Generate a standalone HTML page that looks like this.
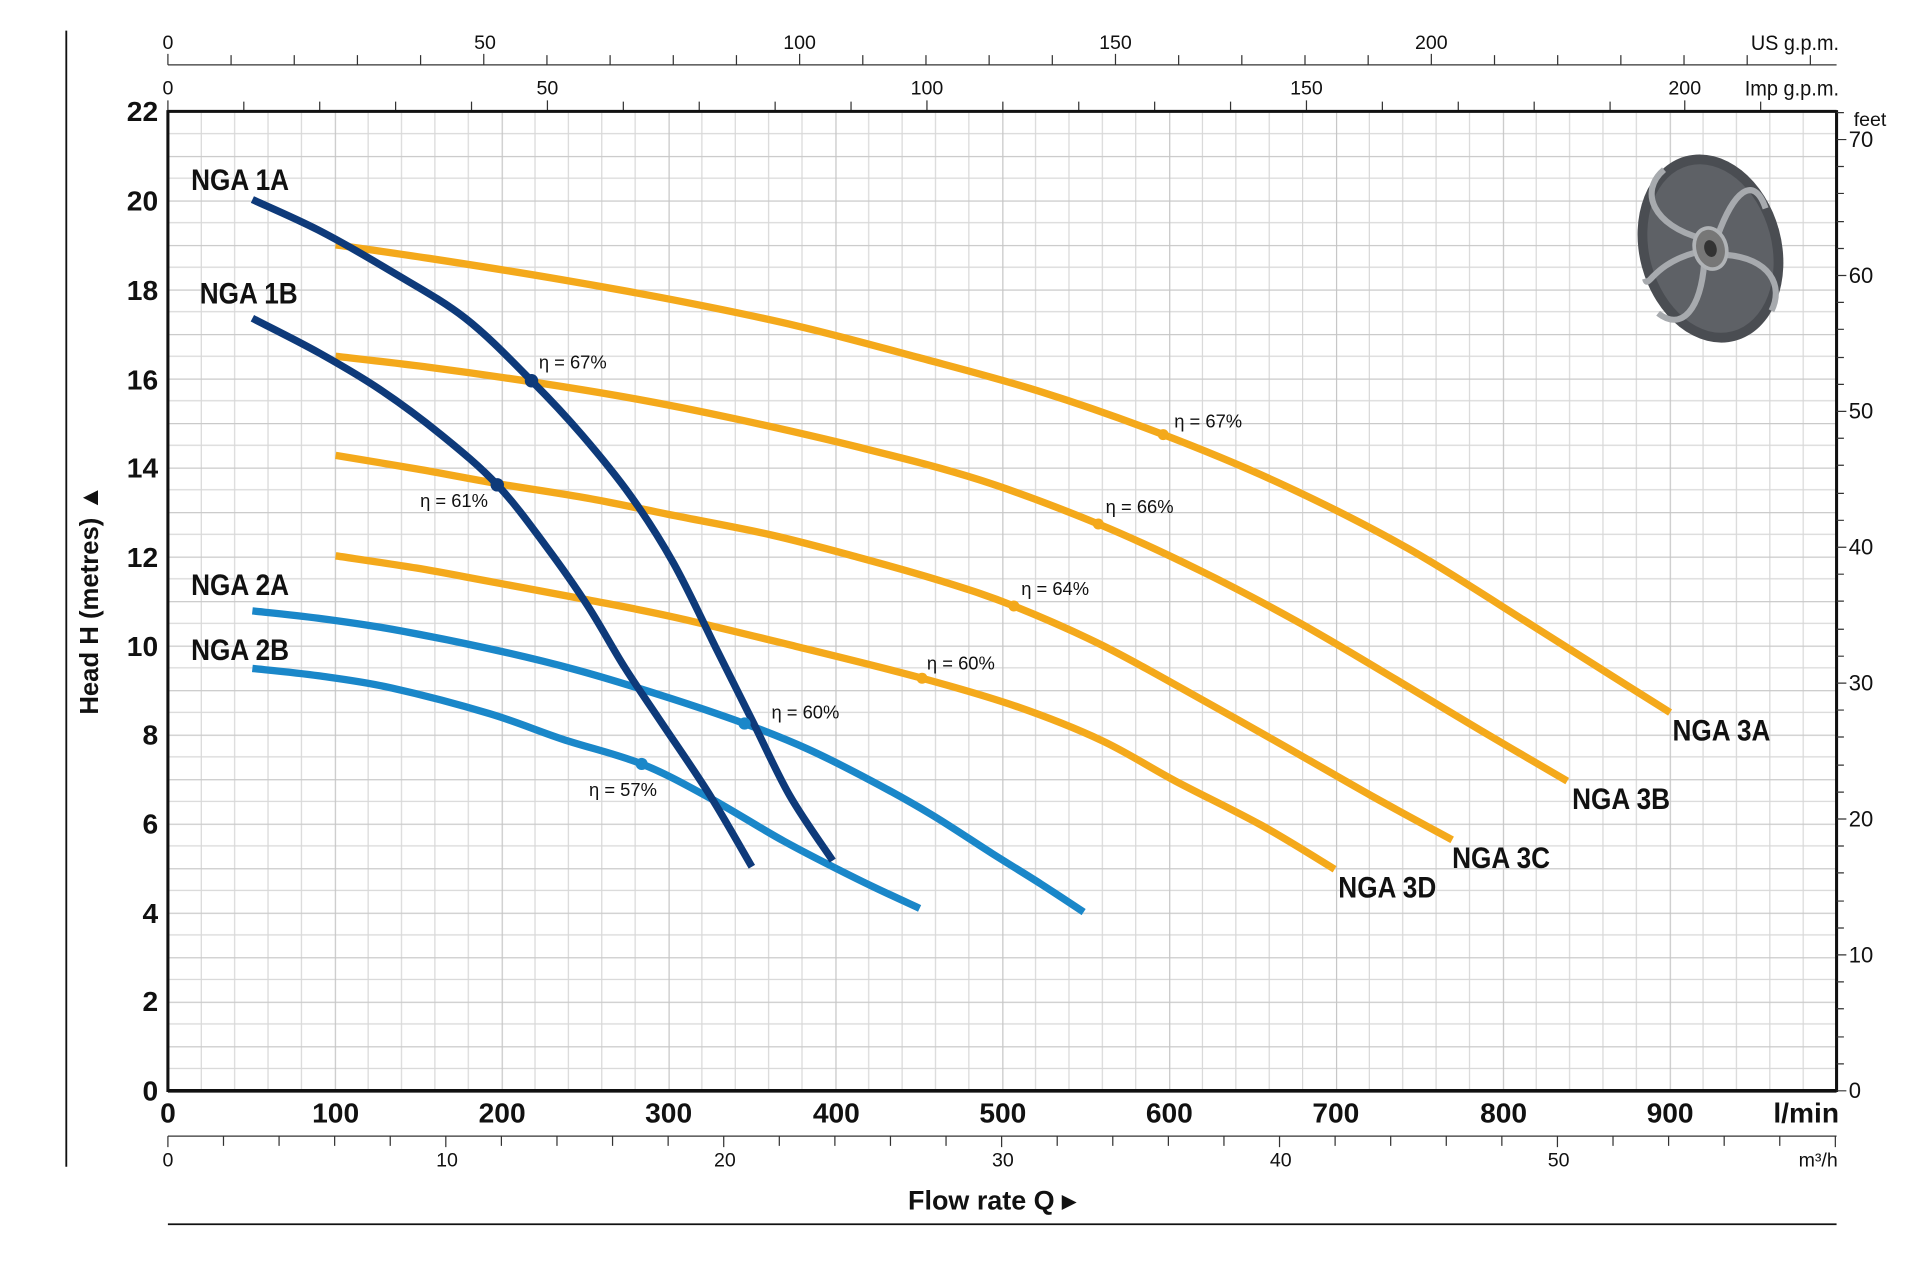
<!DOCTYPE html>
<html><head><meta charset="utf-8"><style>
html,body{margin:0;padding:0;background:#fff;}
svg{display:block;}
text{font-family:"Liberation Sans Narrow","Liberation Sans",sans-serif;fill:#111;}
.b{font-weight:bold;}
</style></head><body>
<svg id="s" width="1920" height="1272" viewBox="0 0 1568 1039" xmlns="http://www.w3.org/2000/svg">
<defs>
<pattern id="g" x="137" y="91" width="136.3" height="36.36" patternUnits="userSpaceOnUse">
 <g stroke="#d8d8d8" stroke-width="1">
  <line x1="0" y1="18.18" x2="136.3" y2="18.18"/>
  <line x1="27.26" y1="0" x2="27.26" y2="36.36"/>
  <line x1="54.52" y1="0" x2="54.52" y2="36.36"/>
  <line x1="81.78" y1="0" x2="81.78" y2="36.36"/>
  <line x1="109.04" y1="0" x2="109.04" y2="36.36"/>
 </g>
 <line x1="0" y1="0" x2="136.3" y2="0" stroke="#cacaca" stroke-width="2"/>
 <line x1="0" y1="0" x2="0" y2="36.36" stroke="#c6c6c6" stroke-width="2"/>
</pattern>
</defs>
<rect x="137" y="91" width="1363" height="800" fill="url(#g)"/>
<line x1="54" y1="25" x2="54" y2="953" stroke="#111" stroke-width="1.5"/>
<line x1="137" y1="53" x2="1500" y2="53" stroke="#333" stroke-width="1"/>
<g stroke="#333" stroke-width="1">
<path d="M137 53V44M188.6 53V45M240.2 53V45M291.8 53V45M343.4 53V45M395 53V44M446.6 53V45M498.2 53V45M549.8 53V45M601.4 53V45M653 53V44M704.6 53V45M756.2 53V45M807.8 53V45M859.4 53V45M911 53V44M962.6 53V45M1014.2 53V45M1065.8 53V45M1117.4 53V45M1169 53V44M1220.6 53V45M1272.2 53V45M1323.8 53V45M1375.4 53V45M1427 53V45M1478.6 53V45"/>
</g>
<g font-size="16" text-anchor="middle">
<text x="137" y="40">0</text><text x="396" y="40">50</text><text x="653" y="40">100</text><text x="911" y="40">150</text><text x="1169" y="40">200</text>
</g>
<text x="1502" y="41" font-size="17" text-anchor="end" textLength="72" lengthAdjust="spacingAndGlyphs">US g.p.m.</text>
<g stroke="#333" stroke-width="1">
<path d="M137 91V82M199 91V83M261 91V83M323 91V83M385 91V83M447 91V82M509 91V83M571 91V83M633 91V83M695 91V83M757 91V82M819 91V83M881 91V83M943 91V83M1005 91V83M1067 91V82M1129 91V83M1191 91V83M1253 91V83M1315 91V83M1376 91V82M1438 91V83"/>
</g>
<g font-size="16" text-anchor="middle">
<text x="137" y="77">0</text><text x="447" y="77">50</text><text x="757" y="77">100</text><text x="1067" y="77">150</text><text x="1376" y="77">200</text>
</g>
<text x="1502" y="78" font-size="17" text-anchor="end" textLength="77" lengthAdjust="spacingAndGlyphs">Imp g.p.m.</text>
<line x1="137" y1="91" x2="1500" y2="91" stroke="#111" stroke-width="2.5"/>
<line x1="137" y1="891" x2="1500" y2="891" stroke="#111" stroke-width="3"/>
<line x1="137" y1="90" x2="137" y2="892" stroke="#111" stroke-width="2.5"/>
<line x1="1500" y1="90" x2="1500" y2="892" stroke="#111" stroke-width="2.5"/>
<g stroke="#333" stroke-width="1">
<path d="M1500 891h8M1500 869h6M1500 847h6M1500 824h6M1500 802h6M1500 780h8M1500 758h6M1500 736h6M1500 713h6M1500 691h6M1500 669h8M1500 647h6M1500 625h6M1500 602h6M1500 580h6M1500 558h8M1500 536h6M1500 514h6M1500 491h6M1500 469h6M1500 447h8M1500 425h6M1500 403h6M1500 380h6M1500 358h6M1500 336h8M1500 314h6M1500 292h6M1500 269h6M1500 247h6M1500 225h8M1500 203h6M1500 181h6M1500 158h6M1500 136h6M1500 114h8M1500 92h6"/>
</g>
<g font-size="18">
<text x="1510" y="897">0</text><text x="1510" y="786">10</text><text x="1510" y="675">20</text><text x="1510" y="564">30</text><text x="1510" y="453">40</text><text x="1510" y="342">50</text><text x="1510" y="231">60</text><text x="1510" y="120">70</text>
<text x="1514" y="103" font-size="16">feet</text>
</g>
<g font-size="23" text-anchor="end">
<text x="129" y="899" class="b">0</text><text x="129" y="826" class="b">2</text><text x="129" y="754" class="b">4</text><text x="129" y="681" class="b">6</text><text x="129" y="608" class="b">8</text><text x="129" y="536" class="b">10</text><text x="129" y="463" class="b">12</text><text x="129" y="390" class="b">14</text><text x="129" y="318" class="b">16</text><text x="129" y="245" class="b">18</text><text x="129" y="172" class="b">20</text><text x="129" y="99" class="b">22</text>
</g>
<text transform="translate(80,490) rotate(-90)" font-size="21" class="b" text-anchor="middle" style="font-family:'Liberation Sans',sans-serif">Head H (metres)  ▲</text>
<g font-size="23" text-anchor="middle">
<text x="137" y="917" class="b">0</text><text x="274" y="917" class="b">100</text><text x="410" y="917" class="b">200</text><text x="546" y="917" class="b">300</text><text x="683" y="917" class="b">400</text><text x="819" y="917" class="b">500</text><text x="955" y="917" class="b">600</text><text x="1091" y="917" class="b">700</text><text x="1228" y="917" class="b">800</text><text x="1364" y="917" class="b">900</text>
</g>
<text x="1502" y="917" font-size="23" class="b" text-anchor="end">l/min</text>
<line x1="137" y1="928" x2="1500" y2="928" stroke="#333" stroke-width="1"/>
<g stroke="#333" stroke-width="1">
<path d="M137 928v9M182.4 928v8M227.8 928v8M273.2 928v8M318.6 928v8M364 928v9M409.4 928v8M454.8 928v8M500.2 928v8M545.6 928v8M591 928v9M636.4 928v8M681.8 928v8M727.2 928v8M772.6 928v8M818 928v9M863.4 928v8M908.8 928v8M954.2 928v8M999.6 928v8M1045 928v9M1090.4 928v8M1135.8 928v8M1181.2 928v8M1226.6 928v8M1272 928v9M1317.4 928v8M1362.8 928v8M1408.2 928v8M1453.6 928v8M1499 928v9"/>
</g>
<g font-size="16" text-anchor="middle">
<text x="137" y="953">0</text><text x="365" y="953">10</text><text x="592" y="953">20</text><text x="819" y="953">30</text><text x="1046" y="953">40</text><text x="1273" y="953">50</text>
</g>
<text x="1501" y="953" font-size="16" text-anchor="end">m³/h</text>
<text x="810" y="988" font-size="22" class="b" text-anchor="middle" style="font-family:'Liberation Sans',sans-serif">Flow rate  Q  ▸</text>
<line x1="137" y1="1000" x2="1500" y2="1000" stroke="#111" stroke-width="1.5"/>
<g transform="translate(1397,203) rotate(-15)">
<ellipse cx="0" cy="0" rx="58" ry="78" fill="#4a4d52"/>
<ellipse cx="0" cy="0" rx="50" ry="70" fill="#5e6166"/>
<path d="M-5 -10 C-40 -30 -45 -60 -20 -72 M8 -8 C30 -40 50 -50 52 -20 M10 8 C45 20 50 45 35 62 M-8 10 C-20 45 -40 60 -55 40 M-12 0 C-50 0 -58 20 -58 10" stroke="#a7aaae" stroke-width="5" fill="none"/>
<ellipse cx="0" cy="0" rx="13" ry="17" fill="#777" stroke="#b0b3b6" stroke-width="3"/>
<ellipse cx="0" cy="0" rx="5" ry="7" fill="#333"/>
</g>
<g id="cv" fill="none" stroke-width="6" stroke-linecap="butt" stroke-linejoin="round">
<polyline stroke="#f4a91b" points="274,200 350,211 450,227 550,245 650,266 750,292 850,320 950,355 1050,397 1150,448 1250,510 1310,548 1364,582"/>
<polyline stroke="#f4a91b" points="274,291 350,300 435,312 520,326 600,342 700,365 800,392 897,428 980,466 1060,508 1140,555 1210,597 1280,638"/>
<polyline stroke="#f4a91b" points="274,372 340,383 406,395 480,407 550,421 630,437 700,455 770,475 828,495 900,527 970,565 1050,610 1120,650 1186,686"/>
<polyline stroke="#f4a91b" points="274,454 340,464 400,475 480,490 550,504 650,528 753,554 830,577 900,605 960,638 1030,674 1090,710"/>
<polyline stroke="#1a87c9" points="206,499 260,505 320,514 400,530 470,547 540,568 608,591 660,612 710,637 760,665 810,697 850,722 885,745"/>
<polyline stroke="#1a87c9" points="206,546 260,552 320,562 400,583 460,604 524,624 580,652 640,687 700,718 751,742"/>
<polyline stroke="#0e3a7a" points="206,163 260,188 320,222 380,260 434,311 475,355 515,405 550,460 585,530 615,590 645,650 680,703"/>
<polyline stroke="#0e3a7a" points="206,260 260,288 310,318 360,355 406,396 445,445 480,495 510,545 540,590 580,650 614,708"/>
</g>
<g>
<circle cx="950" cy="355" r="4.5" fill="#f4a91b"/><circle cx="897" cy="428" r="4.5" fill="#f4a91b"/><circle cx="828" cy="495" r="4.5" fill="#f4a91b"/><circle cx="753" cy="554" r="4.5" fill="#f4a91b"/>
<circle cx="608" cy="591" r="5" fill="#1a87c9"/><circle cx="524" cy="624" r="5" fill="#1a87c9"/>
<circle cx="434" cy="311" r="5.5" fill="#0e3a7a"/><circle cx="406" cy="396" r="5.5" fill="#0e3a7a"/>
</g>
<g font-size="15">
<text x="440" y="301">η = 67%</text><text x="343" y="414">η = 61%</text><text x="959" y="349">η = 67%</text><text x="903" y="419">η = 66%</text><text x="834" y="486">η = 64%</text><text x="757" y="547">η = 60%</text><text x="630" y="587">η = 60%</text><text x="481" y="650">η = 57%</text>
</g>
<g font-size="24">
<text x="156" y="155" class="b" textLength="80" lengthAdjust="spacingAndGlyphs">NGA 1A</text><text x="163" y="248" class="b" textLength="80" lengthAdjust="spacingAndGlyphs">NGA 1B</text><text x="156" y="486" class="b" textLength="80" lengthAdjust="spacingAndGlyphs">NGA 2A</text><text x="156" y="539" class="b" textLength="80" lengthAdjust="spacingAndGlyphs">NGA 2B</text>
<text x="1366" y="605" class="b" textLength="80" lengthAdjust="spacingAndGlyphs">NGA 3A</text><text x="1284" y="661" class="b" textLength="80" lengthAdjust="spacingAndGlyphs">NGA 3B</text><text x="1186" y="709" class="b" textLength="80" lengthAdjust="spacingAndGlyphs">NGA 3C</text><text x="1093" y="733" class="b" textLength="80" lengthAdjust="spacingAndGlyphs">NGA 3D</text>
</g>
</svg>
<script>
(function(){
var ns="http://www.w3.org/2000/svg";
var pls=document.querySelectorAll('#cv polyline');
for(var k=0;k<pls.length;k++){
 var pl=pls[k];
 var p=pl.getAttribute('points').trim().split(/\s+/).map(function(s){return s.split(',').map(Number);});
 var d='M'+p[0][0]+' '+p[0][1];
 for(var i=0;i<p.length-1;i++){
  var p0=p[i-1]||p[i],p1=p[i],p2=p[i+1],p3=p[i+2]||p2;
  var c1x=p1[0]+(p2[0]-p0[0])/6,c1y=p1[1]+(p2[1]-p0[1])/6;
  var c2x=p2[0]-(p3[0]-p1[0])/6,c2y=p2[1]-(p3[1]-p1[1])/6;
  d+=' C'+c1x.toFixed(1)+' '+c1y.toFixed(1)+' '+c2x.toFixed(1)+' '+c2y.toFixed(1)+' '+p2[0]+' '+p2[1];
 }
 var path=document.createElementNS(ns,'path');
 path.setAttribute('d',d);path.setAttribute('stroke',pl.getAttribute('stroke'));
 pl.parentNode.replaceChild(path,pl);
}
})();
</script>
</body></html>
